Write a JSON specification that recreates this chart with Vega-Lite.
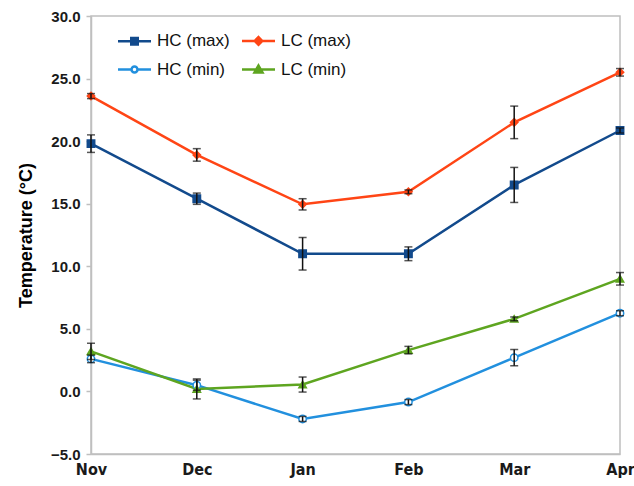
{
  "$schema": "https://vega.github.io/schema/vega-lite/v6.json",
  "width": 529,
  "height": 438,
  "autosize": "none",
  "padding": {"left": 91, "top": 16, "right": 14, "bottom": 32},
  "background": "white",
  "config": {
    "view": {"stroke": "#BFBFBF", "strokeWidth": 1.5},
    "font": "Liberation Sans"
  },
  "data": {
    "values": [
      {"month": "Nov", "series": "HC (max)", "value": 19.8, "err": 0.7},
      {"month": "Nov", "series": "LC (max)", "value": 23.6, "err": 0.2},
      {"month": "Nov", "series": "HC (min)", "value": 2.6, "err": 0.3},
      {"month": "Nov", "series": "LC (min)", "value": 3.2, "err": 0.65},
      {"month": "Dec", "series": "HC (max)", "value": 15.4, "err": 0.45},
      {"month": "Dec", "series": "LC (max)", "value": 18.9, "err": 0.5},
      {"month": "Dec", "series": "HC (min)", "value": 0.5, "err": 0.4},
      {"month": "Dec", "series": "LC (min)", "value": 0.2, "err": 0.8},
      {"month": "Jan", "series": "HC (max)", "value": 11.0, "err": 1.3},
      {"month": "Jan", "series": "LC (max)", "value": 14.95, "err": 0.45},
      {"month": "Jan", "series": "HC (min)", "value": -2.2, "err": 0.2},
      {"month": "Jan", "series": "LC (min)", "value": 0.55, "err": 0.6},
      {"month": "Feb", "series": "HC (max)", "value": 11.0, "err": 0.55},
      {"month": "Feb", "series": "LC (max)", "value": 15.95, "err": 0.15},
      {"month": "Feb", "series": "HC (min)", "value": -0.85, "err": 0.2},
      {"month": "Feb", "series": "LC (min)", "value": 3.3, "err": 0.3},
      {"month": "Mar", "series": "HC (max)", "value": 16.5, "err": 1.4},
      {"month": "Mar", "series": "LC (max)", "value": 21.5, "err": 1.3},
      {"month": "Mar", "series": "HC (min)", "value": 2.7, "err": 0.65},
      {"month": "Mar", "series": "LC (min)", "value": 5.8, "err": 0.15},
      {"month": "Apr", "series": "HC (max)", "value": 20.85, "err": 0.2},
      {"month": "Apr", "series": "LC (max)", "value": 25.5, "err": 0.3},
      {"month": "Apr", "series": "HC (min)", "value": 6.25, "err": 0.2},
      {"month": "Apr", "series": "LC (min)", "value": 9.0, "err": 0.5}
    ]
  },
  "encoding": {
    "x": {
      "field": "month", "type": "ordinal",
      "sort": ["Nov", "Dec", "Jan", "Feb", "Mar", "Apr"],
      "scale": {"type": "point", "padding": 0},
      "axis": {
        "title": null, "labelAngle": 0, "ticks": false,
        "domainColor": "#BFBFBF", "domainWidth": 1.5,
        "labelFont": "DejaVu Sans Condensed, Liberation Sans Narrow, Liberation Sans",
        "labelFontWeight": "bold", "labelFontSize": 16, "labelColor": "#1a1a1a",
        "labelPadding": 7
      }
    },
    "y": {
      "field": "value", "type": "quantitative",
      "title": "Temperature (°C)",
      "scale": {"domain": [-5, 30], "nice": false, "zero": false},
      "axis": {
        "values": [-5, 0, 5, 10, 15, 20, 25, 30], "format": ".1f",
        "grid": false, "title": "Temperature (°C)",
        "titleFont": "Liberation Sans", "titleFontSize": 18, "titleFontWeight": "bold",
        "titleColor": "#000000", "titlePadding": 15,
        "labelFont": "Liberation Sans", "labelFontWeight": "bold", "labelFontSize": 15,
        "labelColor": "#1a1a1a",
        "domainColor": "#BFBFBF", "domainWidth": 1.5,
        "tickColor": "#BFBFBF", "tickSize": 5, "tickWidth": 1.5, "labelPadding": 6
      }
    }
  },
  "layer": [
    {
      "mark": {"type": "line", "strokeWidth": 2.5},
      "encoding": {
        "color": {
          "field": "series", "type": "nominal",
          "scale": {
            "domain": ["HC (max)", "LC (max)", "HC (min)", "LC (min)"],
            "range": ["#124A8C", "#FF4515", "#2290DE", "#5EA520"]
          },
          "legend": null
        }
      }
    },
    {
      "mark": {"type": "point", "filled": false, "opacity": 1, "strokeWidth": 1.5, "size": 55},
      "encoding": {
        "shape": {
          "field": "series", "type": "nominal",
          "scale": {
            "domain": ["HC (max)", "LC (max)", "HC (min)", "LC (min)"],
            "range": ["square", "diamond", "circle", "triangle-up"]
          },
          "legend": null
        },
        "fill": {
          "field": "series", "type": "nominal",
          "scale": {
            "domain": ["HC (max)", "LC (max)", "HC (min)", "LC (min)"],
            "range": ["#124A8C", "#FF4515", "#FFFFFF", "#5EA520"]
          },
          "legend": null
        },
        "stroke": {
          "field": "series", "type": "nominal",
          "scale": {
            "domain": ["HC (max)", "LC (max)", "HC (min)", "LC (min)"],
            "range": ["#124A8C", "#FF4515", "#2290DE", "#5EA520"]
          },
          "legend": null
        }
      }
    },
    {
      "mark": {"type": "errorbar", "ticks": {"size": 8}, "color": "#111111", "thickness": 1.5},
      "encoding": {
        "yError": {"field": "err"}
      }
    },
    {
      "mark": {"type": "point", "filled": false, "opacity": 0, "strokeWidth": 2.5},
      "encoding": {
        "shape": {
          "field": "series", "type": "nominal",
          "scale": {
            "domain": ["HC (max)", "LC (max)", "HC (min)", "LC (min)"],
            "range": [
              "M-3.3,0H3.3M-0.65,-0.65H0.65V0.65H-0.65Z",
              "M-3.3,0H3.3M0,-0.75L0.75,0L0,0.75L-0.75,0Z",
              "M-3.3,0H-0.6M0.6,0H3.3M0.6,0A0.6,0.6,0,1,1,-0.6,0A0.6,0.6,0,1,1,0.6,0Z",
              "M-3.3,0H3.3M0,-0.8L0.8,0.6H-0.8Z"
            ]
          },
          "legend": {
            "orient": "none", "legendX": 35, "legendY": 16, "direction": "horizontal",
            "columns": 2, "title": null, "symbolSize": 100, "symbolOpacity": 1,
            "symbolStrokeWidth": 2.5, "labelFont": "Liberation Sans", "labelFontSize": 17,
            "labelColor": "#111111", "labelOffset": 14, "columnPadding": 7, "rowPadding": 10
          }
        },
        "fill": {
          "field": "series", "type": "nominal",
          "scale": {
            "domain": ["HC (max)", "LC (max)", "HC (min)", "LC (min)"],
            "range": ["#124A8C", "#FF4515", "#FFFFFF", "#5EA520"]
          }
        },
        "stroke": {
          "field": "series", "type": "nominal",
          "scale": {
            "domain": ["HC (max)", "LC (max)", "HC (min)", "LC (min)"],
            "range": ["#124A8C", "#FF4515", "#2290DE", "#5EA520"]
          }
        }
      }
    }
  ],
  "resolve": {
    "scale": {"shape": "independent", "fill": "independent", "stroke": "independent"},
    "legend": {"shape": "independent", "fill": "independent", "stroke": "independent"}
  }
}
